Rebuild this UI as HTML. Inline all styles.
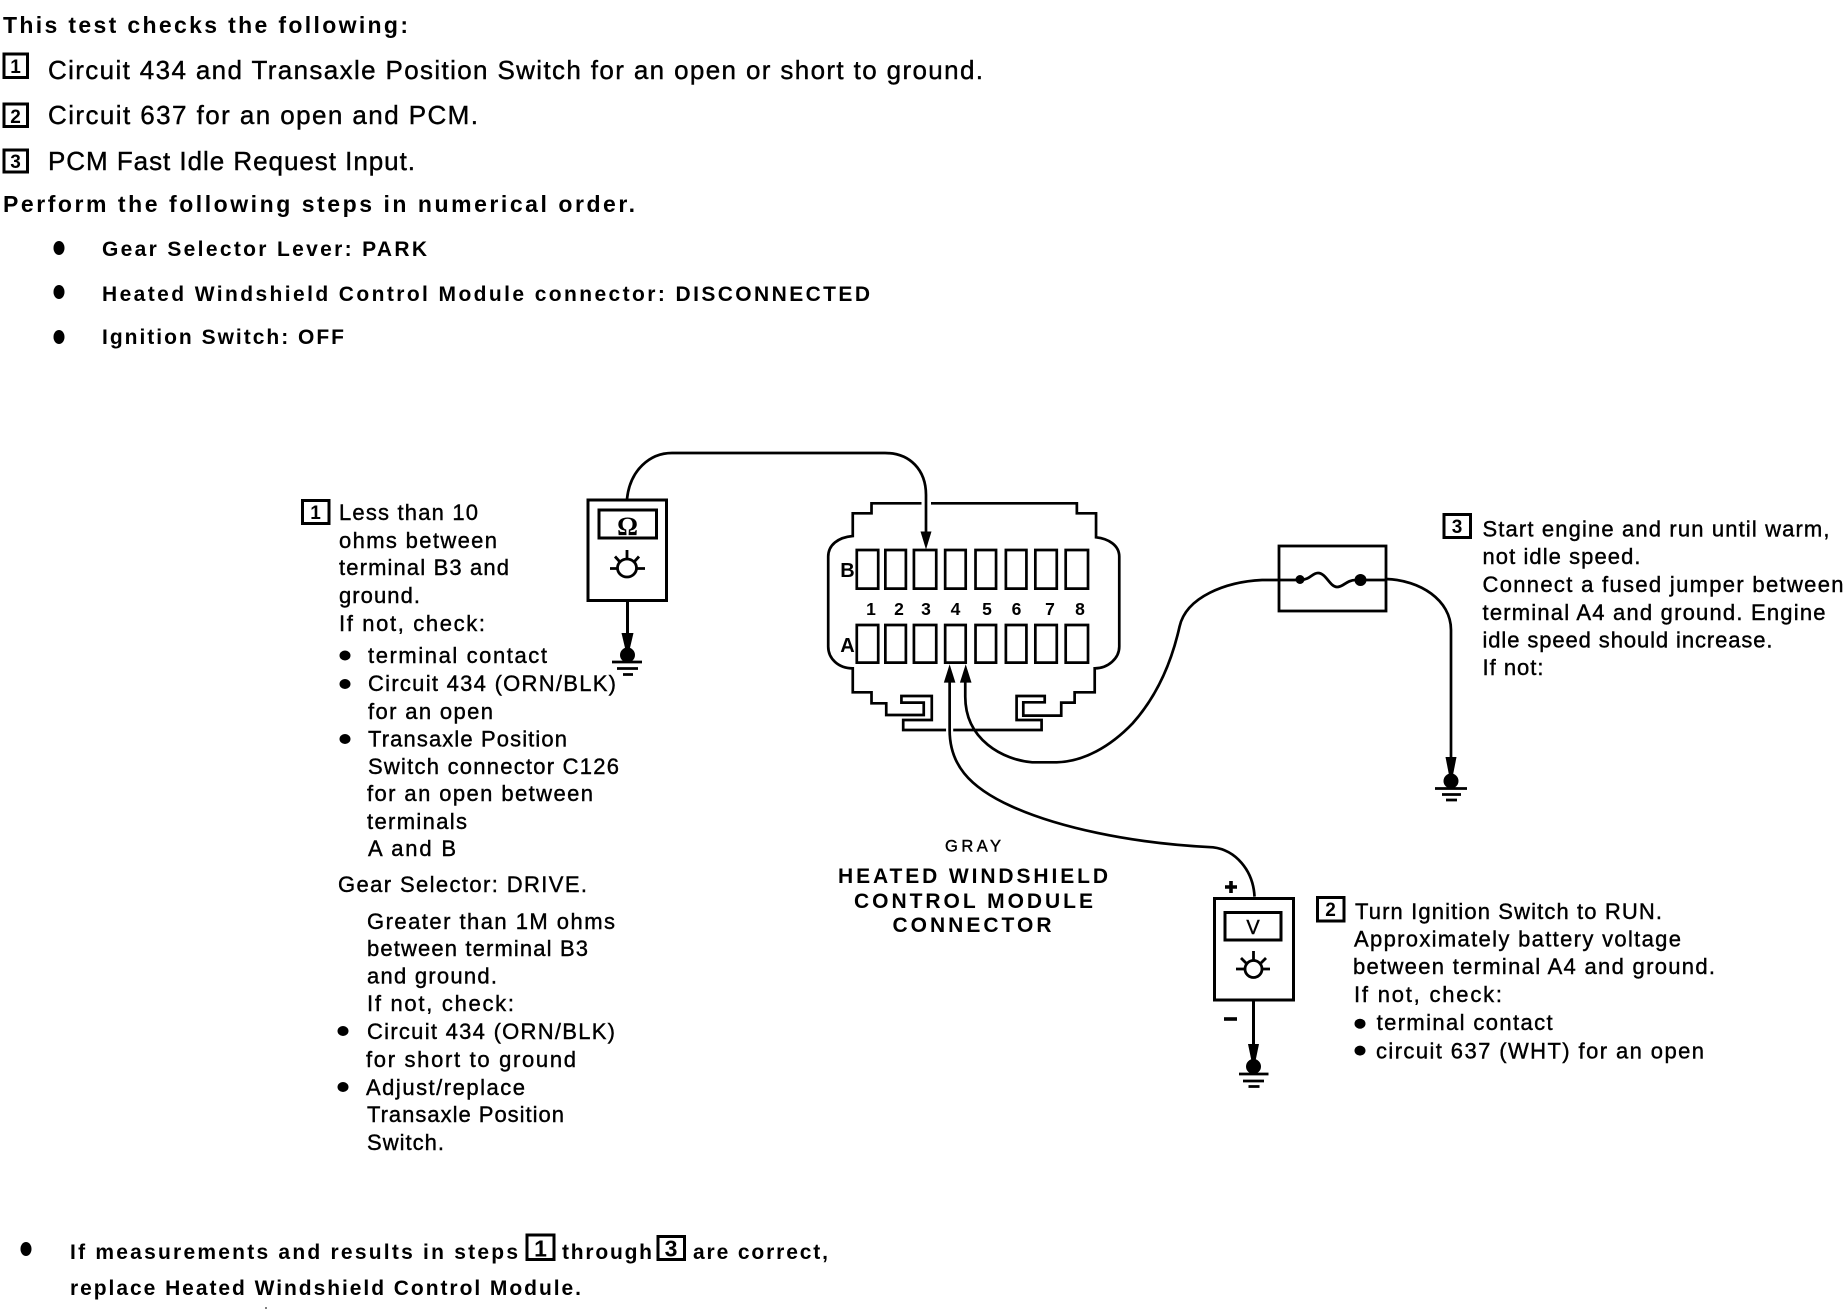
<!DOCTYPE html>
<html><head><meta charset="utf-8"><style>
html,body{margin:0;padding:0;background:#fff;width:1844px;height:1312px;overflow:hidden}
svg{display:block}
text{font-family:"Liberation Sans",sans-serif;fill:#000;stroke:#000;stroke-width:.4px;font-size:22px}
.t{font-size:26px}.b{font-size:23px;font-weight:bold;stroke:none}.s{font-size:21px;font-weight:bold;stroke:none}
.d{font-size:19px;font-weight:bold;text-anchor:middle;stroke:none}
.n{font-size:17.5px;font-weight:bold;text-anchor:middle;stroke:none}
.w{fill:none;stroke:#000;stroke-width:2.7;vector-effect:non-scaling-stroke}
.box{fill:none;stroke:#000;stroke-width:3}
.ln{stroke:#000;stroke-width:2.8;fill:none}
</style></head><body>
<svg width="1844" height="1312" viewBox="0 0 1844 1312" xmlns="http://www.w3.org/2000/svg">
<text class="b" x="3" y="33" textLength="405">This test checks the following:</text>
<rect class="box" x="4" y="54" width="23.5" height="23.5"/><text class="d" x="15.5" y="73">1</text>
<text class="t" x="48" y="79" textLength="935">Circuit 434 and Transaxle Position Switch for an open or short to ground.</text>
<rect class="box" x="4" y="104" width="23.5" height="22.5"/><text class="d" x="15.5" y="123">2</text>
<text class="t" x="48" y="124" textLength="430">Circuit 637 for an open and PCM.</text>
<rect class="box" x="4" y="150" width="23.5" height="22"/><text class="d" x="15.5" y="168">3</text>
<text class="t" x="48" y="170" textLength="367">PCM Fast Idle Request Input.</text>
<text class="b" x="3" y="212" textLength="632">Perform the following steps in numerical order.</text>
<ellipse cx="59" cy="248" rx="5.5" ry="7"/><ellipse cx="59" cy="292" rx="5.5" ry="7"/><ellipse cx="59" cy="337" rx="5.5" ry="7"/>
<text class="s" x="102" y="256" textLength="325">Gear Selector Lever: PARK</text>
<text class="s" x="102" y="301" textLength="768">Heated Windshield Control Module connector: DISCONNECTED</text>
<text class="s" x="102" y="344" textLength="242">Ignition Switch: OFF</text>

<!-- step 1 text -->
<rect class="box" x="302.5" y="500.5" width="26.5" height="23"/><text class="d" x="315.5" y="519">1</text>
<text x="339" y="520" textLength="139">Less than 10</text>
<text x="339" y="548" textLength="158">ohms between</text>
<text x="339" y="575" textLength="170">terminal B3 and</text>
<text x="339" y="603" textLength="81">ground.</text>
<text x="339" y="631" textLength="146">If not, check:</text>
<ellipse cx="345" cy="655.5" rx="5.5" ry="5"/>
<text x="368" y="663" textLength="179">terminal contact</text>
<ellipse cx="345" cy="684" rx="5.5" ry="5"/>
<text x="368" y="691" textLength="248">Circuit 434 (ORN/BLK)</text>
<text x="368" y="719" textLength="125">for an open</text>
<ellipse cx="345" cy="739" rx="5.5" ry="5"/>
<text x="368" y="746.5" textLength="199">Transaxle Position</text>
<text x="368" y="774" textLength="251">Switch connector C126</text>
<text x="367" y="801" textLength="226">for an open between</text>
<text x="367" y="829" textLength="100">terminals</text>
<text x="368" y="856" textLength="88">A and B</text>
<text x="338" y="892" textLength="249">Gear Selector: DRIVE.</text>
<text x="367" y="929" textLength="248">Greater than 1M ohms</text>
<text x="367" y="956" textLength="221">between terminal B3</text>
<text x="367" y="983.5" textLength="130">and ground.</text>
<text x="367" y="1011" textLength="147">If not, check:</text>
<ellipse cx="343" cy="1031" rx="5.5" ry="5"/>
<text x="367" y="1039" textLength="248">Circuit 434 (ORN/BLK)</text>
<text x="366" y="1067" textLength="210">for short to ground</text>
<ellipse cx="343" cy="1087" rx="5.5" ry="5"/>
<text x="366" y="1095" textLength="159">Adjust/replace</text>
<text x="367" y="1122" textLength="197">Transaxle Position</text>
<text x="367" y="1150" textLength="77">Switch.</text>

<!-- ohm meter -->
<rect x="588" y="500" width="78.5" height="100.5" fill="none" stroke="#000" stroke-width="3"/>
<rect class="box" x="599" y="510" width="57.5" height="28"/>
<text x="627.5" y="535" text-anchor="middle" style="font-family:'Liberation Serif',serif;font-size:26px;font-weight:bold;stroke:none">Ω</text>
<g class="ln">
<ellipse cx="627" cy="568" rx="9.5" ry="9"/>
<path d="M627,550V559M615,556.5L620,562M639,556.5L634,562M610,568.5H618M636,568.5H645"/>
<path d="M627.5,600V636" stroke-width="3"/>
<path d="M612,662H642M617,668.5H638M623,674.5H633"/>
</g>
<path d="M621.5,633H633.5L629.5,650H625.5Z"/><ellipse cx="627.5" cy="655" rx="7.5" ry="7.5"/>

<!-- connector (coordinates scaled) -->
<g transform="translate(780,430) scale(.4464,.3333)">
<path class="w" d="M108,380C108,345 130,322 163,318V250H205V220H665V250H708V322C735,326 760,345 760,380V650C760,685 735,715 705,715V787H660V818H630V857H545V817H593V798H530V870H586V900H276V870H340V798H272V818H322V855H238V820H205V787H163V715C130,715 108,685 108,650Z"/>
<path class="w" d="M172,360H220V476H172ZM236,360H282V476H236ZM300,360H350V476H300ZM370,360H416V476H370ZM438,360H484V476H438ZM506,360H552V476H506ZM572,360H620V476H572ZM640,360H690V476H640Z"/>
<path class="w" d="M172,585H220V698H172ZM236,585H282V698H236ZM300,585H350V698H300ZM370,585H416V698H370ZM438,585H484V698H438ZM506,585H552V698H506ZM572,585H620V698H572ZM640,585H690V698H640Z"/>
<rect x="372" y="890" width="16" height="20" fill="#fff"/>
<path class="w" d="M1118,450H1080C1000,455 910,500 895,590C880,680 850,790 790,880C740,950 680,995 620,997L565,997C500,990 415,930 415,800V740"/>
<path class="w" d="M380,740V900C380,1000 420,1070 520,1130C620,1190 780,1240 970,1252C1020,1260 1060,1320 1063,1400"/>
<path d="M403,758H429L416,703Z"/><path d="M367,758H393L380,703Z"/>
</g>
<rect x="921.5" y="500" width="9.5" height="6" fill="#fff"/>
<path class="w" d="M627,499C630,470 650,453 672,453H885C910,453 926,470 926,495V535"/>
<path d="M920.5,531.5H931.5L926,549.5Z"/>
<text x="847.5" y="577" text-anchor="middle" style="font-size:20px;font-weight:bold;stroke:none">B</text>
<text x="847.5" y="652" text-anchor="middle" style="font-size:20px;font-weight:bold;stroke:none">A</text>
<text class="n" x="871" y="615">1</text><text class="n" x="899" y="615">2</text><text class="n" x="926" y="615">3</text><text class="n" x="955.5" y="615">4</text><text class="n" x="987" y="615">5</text><text class="n" x="1016.5" y="615">6</text><text class="n" x="1050" y="615">7</text><text class="n" x="1080" y="615">8</text>
<text x="945" y="851.7" textLength="56" style="font-size:16.5px">GRAY</text>
<text class="s" x="838" y="883" textLength="270">HEATED WINDSHIELD</text>
<text class="s" x="854" y="908" textLength="239">CONTROL MODULE</text>
<text class="s" x="892.5" y="932" textLength="159">CONNECTOR</text>

<!-- fuse -->
<rect x="1279" y="546" width="107" height="65" fill="none" stroke="#000" stroke-width="2.8"/>
<path class="ln" d="M1279,580H1300C1310,580 1312,573 1318,573C1326,573 1330,587 1337,587C1344,587 1346,580 1356,580H1386"/>
<circle cx="1300" cy="579.5" r="4.5"/><circle cx="1360.5" cy="580" r="6"/>
<path class="w" d="M1386,579C1420,580 1451,600 1451,630V760"/>
<path d="M1445.5,757H1456.5L1453,775H1449Z"/><circle cx="1451" cy="781" r="7.5"/>
<path class="ln" d="M1435,788.5H1467M1442,794.5H1461M1446,800H1457"/>

<!-- step 3 text -->
<rect class="box" x="1444" y="514.5" width="26.5" height="23"/><text class="d" x="1457" y="533">3</text>
<text x="1482.5" y="536.4" textLength="347">Start engine and run until warm,</text>
<text x="1482.5" y="564" textLength="158">not idle speed.</text>
<text x="1482.5" y="592" textLength="361">Connect a fused jumper between</text>
<text x="1482.5" y="620" textLength="343">terminal A4 and ground. Engine</text>
<text x="1482.5" y="647.4" textLength="290">idle speed should increase.</text>
<text x="1482.5" y="675" textLength="61">If not:</text>

<!-- voltmeter -->
<rect x="1214.5" y="898.5" width="79" height="101.5" fill="none" stroke="#000" stroke-width="3"/>
<rect class="box" x="1225" y="912.5" width="56" height="27.5"/>
<text x="1253" y="934" text-anchor="middle" style="font-size:20px">V</text>
<g class="ln">
<ellipse cx="1253.5" cy="969" rx="8.5" ry="8.5"/>
<path d="M1253.5,951V960M1241,958L1246,963M1266,958L1261,963M1236,969H1244M1263,969H1270"/>
<path d="M1253.5,1000V1048" stroke-width="3"/>
<path d="M1239,1074H1268.5M1243,1081H1264M1248.5,1086.5H1259.5"/>
<path d="M1224,1019H1237" stroke-width="3.6"/>
<path d="M1225,887H1237M1231,881V893" stroke-width="3.6"/>
</g>
<path d="M1248,1044H1259L1255.5,1061H1251.5Z"/><circle cx="1253.5" cy="1066.5" r="7.5"/>

<!-- step 2 text -->
<rect class="box" x="1317.5" y="897.5" width="26.5" height="23.5"/><text class="d" x="1330.5" y="916">2</text>
<text x="1355" y="919" textLength="307">Turn Ignition Switch to RUN.</text>
<text x="1354" y="946.6" textLength="327">Approximately battery voltage</text>
<text x="1353" y="974" textLength="362">between terminal A4 and ground.</text>
<text x="1354" y="1002" textLength="148">If not, check:</text>
<ellipse cx="1360" cy="1023.7" rx="5.5" ry="5"/>
<text x="1376.6" y="1030" textLength="176">terminal contact</text>
<ellipse cx="1360" cy="1050.6" rx="5.5" ry="5"/>
<text x="1376" y="1058.5" textLength="328">circuit 637 (WHT) for an open</text>

<!-- bottom -->
<ellipse cx="26" cy="1249" rx="5.5" ry="7"/>
<text class="s" x="70" y="1259" textLength="448">If measurements and results in steps</text>
<rect class="box" x="527" y="1235" width="27" height="24.5"/><text class="d" x="540.5" y="1256.5" style="font-size:23px">1</text>
<text class="s" x="562" y="1259" textLength="90">through</text>
<rect class="box" x="658" y="1236.5" width="26.5" height="23"/><text class="d" x="671" y="1256.5" style="font-size:23px">3</text>
<text class="s" x="693" y="1259" textLength="135">are correct,</text>
<text class="s" x="70" y="1295" textLength="511">replace Heated Windshield Control Module.</text>
<rect x="265.5" y="1307" width="1" height="2"/>
</svg>
</body></html>
